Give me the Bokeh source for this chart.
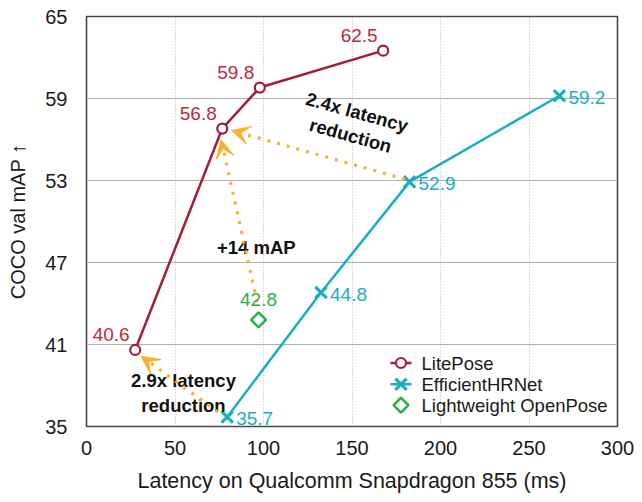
import math
from bokeh.plotting import figure
from bokeh.models import (ColumnDataSource, LabelSet, Arrow, VeeHead, FixedTicker, Range1d)
from bokeh.core.properties import value
from bokeh.embed import file_html
from bokeh.resources import INLINE

# ---- data ----
lite_lat = [27.5, 76.7, 97.9, 167.6]
lite_map = [40.6, 56.8, 59.8, 62.5]
ehr_lat = [79.5, 132.5, 182.5, 267.2]
ehr_map = [35.7, 44.8, 52.9, 59.2]
olp_lat = [97.2]
olp_map = [42.8]

x_ticks = [0, 50, 100, 150, 200, 250, 300]
y_ticks = [35, 41, 47, 53, 59, 65]

arrow_x_start = [180.0, 96.4, 74.4]
arrow_y_start = [53.1, 44.1, 36.05]
arrow_x_end = [82.0, 76.1, 30.9]
arrow_y_end = [56.66, 55.98, 40.14]

notes = ["2.4x latency\nreduction", "+14 mAP", "2.9x latency\nreduction"]
note_x = [151.0, 95.9, 54.8]
note_y = [57.15, 48.07, 37.45]
note_angle = [-0.27, 0.0, 0.0]

legend_labels = ["LitePose", "EfficientHRNet", "Lightweight OpenPose"]

FONT = "Liberation Sans"
RED = "#A31D38"
RED_T = "#BE2A3C"
TEAL = "#1AAFBF"
GREEN = "#2DAF4A"
ORANGE = "#F9B12C"

W, H = 640, 500
BL, BT, BR, BB = 86, 16, 23, 74
FW, FH = W - BL - BR, H - BT - BB

p = figure(width=W, height=H, x_range=(0, 300), y_range=(35, 65),
           output_backend="svg", toolbar_location=None,
           min_border_left=BL, min_border_right=BR, min_border_top=BT,
           min_border_bottom=BB)

p.background_fill_color = "white"
p.border_fill_color = "white"
p.outline_line_color = "#4a4a4a"
p.outline_line_width = 1.6

for ax in (p.xaxis, p.yaxis):
    ax.axis_line_color = None
    ax.major_tick_line_color = None
    ax.minor_tick_line_color = None
    ax.major_tick_out = 0
    ax.major_tick_in = 0
    ax.major_label_text_font = FONT
    ax.major_label_text_font_size = "20px"
    ax.major_label_text_color = "#1a1a1a"
    ax.axis_label_text_font = FONT
    ax.axis_label_text_font_style = "normal"
    ax.axis_label_text_color = "#1a1a1a"

p.xaxis.axis_label_text_font_size = "21.5px"
p.yaxis.axis_label_text_font_size = "20px"
p.xaxis.ticker = FixedTicker(ticks=x_ticks)
p.yaxis.ticker = FixedTicker(ticks=y_ticks)
p.xaxis.axis_label = "Latency on Qualcomm Snapdragon 855 (ms)"
p.yaxis.axis_label = "COCO val mAP \u2191"
p.xaxis.major_label_standoff = 14
p.xaxis.axis_label_standoff = 11
p.yaxis.major_label_standoff = 19
p.yaxis.axis_label_standoff = 13

p.xgrid.grid_line_color = "#b5b5b5"
p.xgrid.grid_line_dash = "1 2"
p.xgrid.grid_line_width = 1
p.ygrid.grid_line_color = "#b0b0b0"
p.ygrid.grid_line_width = 1

# arrows
for xs, ys, xe, ye in zip(arrow_x_start, arrow_y_start, arrow_x_end, arrow_y_end):
    p.add_layout(Arrow(x_start=xs, y_start=ys, x_end=xe, y_end=ye,
                       line_color=ORANGE, line_width=3.2, line_dash="3 7",
                       end=VeeHead(size=18, fill_color=ORANGE, line_color=ORANGE,
                                   line_width=1)))

# series
p.line(lite_lat, lite_map, line_color=RED, line_width=2.5)
p.scatter(lite_lat, lite_map, marker="circle", size=10, line_color=RED,
          line_width=2.2, fill_color="white")
p.line(ehr_lat, ehr_map, line_color=TEAL, line_width=2.5)
p.scatter(ehr_lat, ehr_map, marker="x", size=16, line_color=TEAL, line_width=3.2)
p.scatter(olp_lat, olp_map, marker="square", angle=math.pi / 4, size=10.5,
          line_color=GREEN, line_width=2.6, fill_color="white")

# value labels
src_lite = ColumnDataSource(dict(x=lite_lat, y=lite_map, t=[f"{v:.1f}" for v in lite_map]))
src_ehr = ColumnDataSource(dict(x=ehr_lat, y=ehr_map, t=[f"{v:.1f}" for v in ehr_map]))
src_olp = ColumnDataSource(dict(x=olp_lat, y=olp_map, t=[f"{v:.1f}" for v in olp_map]))

p.add_layout(LabelSet(x="x", y="y", text="t", source=src_lite, x_offset=-24, y_offset=15,
                      text_align="center", text_baseline="middle", text_color=RED_T,
                      text_font=value(FONT), text_font_size="19px"))
p.add_layout(LabelSet(x="x", y="y", text="t", source=src_ehr, x_offset=9, y_offset=-1.5,
                      text_align="left", text_baseline="middle", text_color=TEAL,
                      text_font=value(FONT), text_font_size="19px"))
p.add_layout(LabelSet(x="x", y="y", text="t", source=src_olp, x_offset=0, y_offset=20,
                      text_align="center", text_baseline="middle", text_color=GREEN,
                      text_font=value(FONT), text_font_size="19px"))

# notes
src_notes = ColumnDataSource(dict(x=note_x, y=note_y, t=notes, a=note_angle))
p.text(x="x", y="y", text="t", angle="a", source=src_notes, text_align="center",
       text_baseline="middle", text_font=value(FONT), text_font_size="18.5px",
       text_font_style="bold", text_color="#111111", text_line_height=1.15)

# legend drawn in frame-pixel coordinates (origin bottom-left of the frame)
p.extra_x_ranges = {"px": Range1d(0, FW)}
p.extra_y_ranges = {"px": Range1d(0, FH)}
LX0, LX1, LTX = 304, 325, 335
row_y = [63.5, 42.3, 21.3]
p.line([LX0, LX1], [row_y[0], row_y[0]], x_range_name="px", y_range_name="px",
       line_color=RED, line_width=2.5)
p.scatter([(LX0 + LX1) / 2], [row_y[0]], x_range_name="px", y_range_name="px",
          marker="circle", size=10, line_color=RED, line_width=2.2, fill_color="white")
p.line([LX0, LX1], [row_y[1], row_y[1]], x_range_name="px", y_range_name="px",
       line_color=TEAL, line_width=2.5)
p.scatter([(LX0 + LX1) / 2], [row_y[1]], x_range_name="px", y_range_name="px",
          marker="x", size=16, line_color=TEAL, line_width=3.2)
p.scatter([(LX0 + LX1) / 2], [row_y[2]], x_range_name="px", y_range_name="px",
          marker="square", angle=math.pi / 4, size=10.5, line_color=GREEN,
          line_width=2.6, fill_color="white")
p.text([LTX] * 3, row_y, text=legend_labels, x_range_name="px", y_range_name="px",
       text_align="left", text_baseline="middle", text_font=value(FONT),
       text_font_size="18.5px", text_color="#1a1a1a")

open("out.html", "w").write(file_html(p, INLINE))
